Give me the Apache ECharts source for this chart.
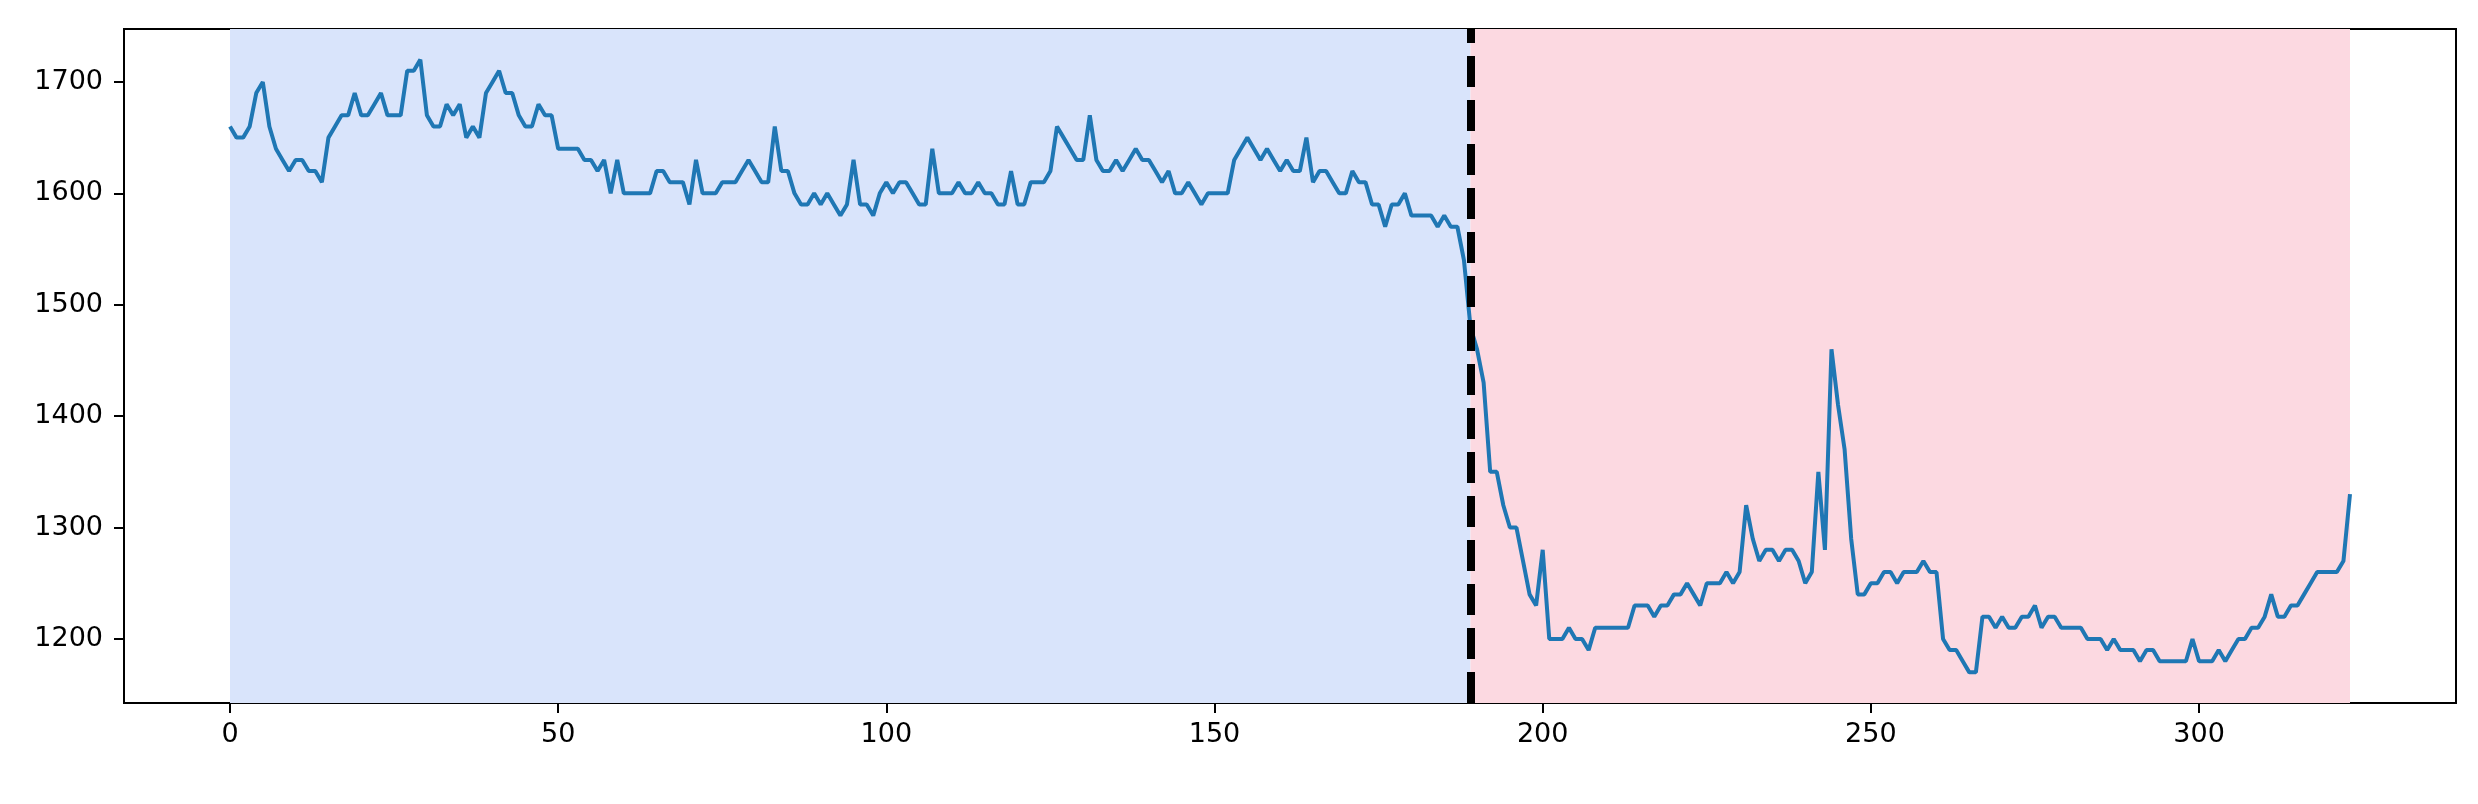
<!DOCTYPE html>
<html>
<head>
<meta charset="utf-8">
<script src="https://cdn.jsdelivr.net/npm/echarts@6/dist/echarts.min.js"></script>
<style>
  html, body { margin: 0; padding: 0; background: #fff; }
  #chart { width: 2478px; height: 804px; }
</style>
</head>
<body>
<div id="chart"></div>
<script>
// values, one per step 0..323
const values = [
  1660,1650,1650,1660,1690,1700,1660,1640,1630,1620,
  1630,1630,1620,1620,1610,1650,1660,1670,1670,1690,
  1670,1670,1680,1690,1670,1670,1670,1710,1710,1720,
  1670,1660,1660,1680,1670,1680,1650,1660,1650,1690,
  1700,1710,1690,1690,1670,1660,1660,1680,1670,1670,
  1640,1640,1640,1640,1630,1630,1620,1630,1600,1630,
  1600,1600,1600,1600,1600,1620,1620,1610,1610,1610,
  1590,1630,1600,1600,1600,1610,1610,1610,1620,1630,
  1620,1610,1610,1660,1620,1620,1600,1590,1590,1600,
  1590,1600,1590,1580,1590,1630,1590,1590,1580,1600,
  1610,1600,1610,1610,1600,1590,1590,1640,1600,1600,
  1600,1610,1600,1600,1610,1600,1600,1590,1590,1620,
  1590,1590,1610,1610,1610,1620,1660,1650,1640,1630,
  1630,1670,1630,1620,1620,1630,1620,1630,1640,1630,
  1630,1620,1610,1620,1600,1600,1610,1600,1590,1600,
  1600,1600,1600,1630,1640,1650,1640,1630,1640,1630,
  1620,1630,1620,1620,1650,1610,1620,1620,1610,1600,
  1600,1620,1610,1610,1590,1590,1570,1590,1590,1600,
  1580,1580,1580,1580,1570,1580,1570,1570,1540,1480,
  1460,1430,1350,1350,1320,1300,1300,1270,1240,1230,
  1280,1200,1200,1200,1210,1200,1200,1190,1210,1210,
  1210,1210,1210,1210,1230,1230,1230,1220,1230,1230,
  1240,1240,1250,1240,1230,1250,1250,1250,1260,1250,
  1260,1320,1290,1270,1280,1280,1270,1280,1280,1270,
  1250,1260,1350,1280,1460,1410,1370,1290,1240,1240,
  1250,1250,1260,1260,1250,1260,1260,1260,1270,1260,
  1260,1200,1190,1190,1180,1170,1170,1220,1220,1210,
  1220,1210,1210,1220,1220,1230,1210,1220,1220,1210,
  1210,1210,1210,1200,1200,1200,1190,1200,1190,1190,
  1190,1180,1190,1190,1180,1180,1180,1180,1180,1200,
  1180,1180,1180,1190,1180,1190,1200,1200,1210,1210,
  1220,1240,1220,1220,1230,1230,1240,1250,1260,1260,
  1260,1260,1270,1330
]
const changePoint = 189
const blueSpan = [0, 189]
const pinkSpan = [189, 323]
const xTicks = [0, 50, 100, 150, 200, 250, 300]
const yTicks = [1200, 1300, 1400, 1500, 1600, 1700]

const seriesData = values.map((v, i) => [i, v])

const chart = echarts.init(document.getElementById('chart'))
const labelFont = { color: '#000', fontSize: 27, fontFamily: 'DejaVu Sans' }
const plain = v => String(v)

const option = {
  animation: false,
  backgroundColor: '#fff',
  grid: {
    left: 124, right: 22, top: 29, bottom: 101,
    show: true, borderColor: '#000', borderWidth: 2, backgroundColor: 'transparent'
  },
  xAxis: {
    type: 'value',
    min: -16.15,
    max: 339.15,
    splitLine: { show: false },
    axisLine: { show: true, onZero: false, lineStyle: { color: '#000', width: 2 } },
    axisTick: { show: true, customValues: xTicks, length: 10, lineStyle: { color: '#000', width: 2 } },
    axisLabel: Object.assign({ customValues: xTicks, margin: 18, formatter: plain }, labelFont)
  },
  yAxis: {
    type: 'value',
    min: 1142.5,
    max: 1747.5,
    splitLine: { show: false },
    axisLine: { show: true, onZero: false, lineStyle: { color: '#000', width: 2 } },
    axisTick: { show: true, customValues: yTicks, length: 10, lineStyle: { color: '#000', width: 2 } },
    axisLabel: Object.assign({ customValues: yTicks, margin: 21, formatter: plain }, labelFont)
  },
  series: [
    {
      type: 'line',
      data: seriesData,
      symbol: 'none',
      z: 3,
      lineStyle: { color: '#1f77b4', width: 4 },
      markArea: {
        silent: true,
        data: [
          [{ xAxis: blueSpan[0], itemStyle: { color: '#d9e4fb' } }, { xAxis: blueSpan[1] }],
          [{ xAxis: pinkSpan[0], itemStyle: { color: '#fcd9e1' } }, { xAxis: pinkSpan[1] }]
        ]
      }
    },
    {
      type: 'line',
      data: [],
      z: 5,
      markLine: {
        silent: true,
        symbol: 'none',
        label: { show: false },
        lineStyle: { color: '#000', width: 8, type: [31, 13] },
        data: [{ xAxis: changePoint }]
      }
    }
  ]
}

chart.setOption(option)
</script>
</body>
</html>
